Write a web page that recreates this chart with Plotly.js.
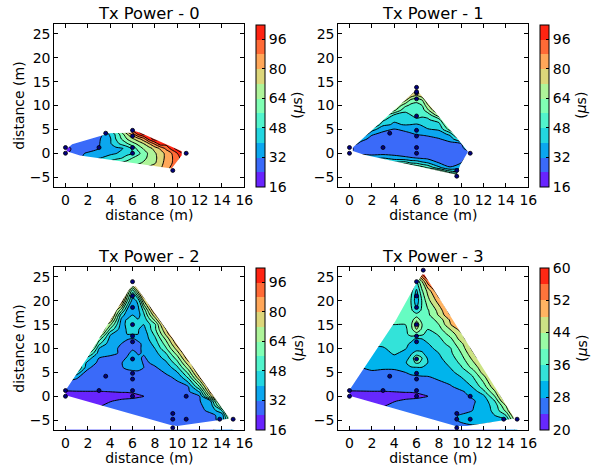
<!DOCTYPE html>
<html><head><meta charset="utf-8">
<script src="https://cdn.plot.ly/plotly-3.0.1.min.js"></script>
<style>html,body{margin:0;padding:0;background:#fff}#c{width:595px;height:466px}</style>
</head><body><div id="c"></div>
<script>
const N = null;
const titles = ["Tx Power - 0","Tx Power - 1","Tx Power - 2","Tx Power - 3"];
const ticksA = [16,32,48,64,80,96];
const ticksB = [20,28,36,44,52,60];
const bandsA = ["#6824fe","#3a6af9","#0ba7ef","#23d6e0","#51f4cc","#80ffb4","#aef499","#dcd67a","#ffa759","#ff6a36","#ff2412"];
const bandsB = ["#6628fe","#3374f8","#00b4ec","#33e3d9","#66fcc2","#99fca5","#cce385","#ffb462","#ff743b","#ff2814"];

const px0 = [0,0,3,3.6,6,6,6,6,9.6,10.8];
const py0 = [0,1.2,1.2,4.2,0,1.2,3.6,4.8,-3.6,0];
const px1 = [0,0,3,3.6,6,6,6,6,6,6,6,6,6,9.6,9.6,10.8];
const py1 = [0,1.2,1.2,4.2,0,1.2,3.6,4.8,7.8,11.4,12.6,12.9,13.8,-3.6,-4.8,0];
const px2 = [0,0,3,3.6,6,6,6,6,6,6,6,6,6,6,6,9.6,9.6,9.6,10.8,10.8,13.8,15];
const py2 = [0,1.2,1.2,4.2,0,1.2,3.6,4.8,7.8,11.4,12.6,15,18.6,21,24,-3.6,-4.8,-6.6,0,-4.8,-4.8,-4.8];
const px3 = [0,0,3,3.6,6,6,6,6,6,6,6,6,6,6,6,6.6,9.6,9.6,9.6,10.8,10.8,13.8,15];
const py3 = [0,1.2,1.2,4.2,0,1.2,3.6,4.8,7.8,11.4,12.6,15,18.6,21,24,26.4,-3.6,-4.8,-6.6,0,-4.8,-4.8,-4.8];

const xs0 = [0,1,2,3,4,4.5,5,5.5,6,6.5,7,7.5,8,8.5,9,9.5,10,10.5,11];
const ys0 = [5,4,3,2,1,0,-1,-2,-3,-4];
const z0 = [
[N,N,N,N,50,60,72,88,100,108,N,N,N,N,N,N,N,N,N],
[N,N,N,28,41.5,49.5,59.5,71,84,98,106,N,N,N,N,N,N,N,N],
[N,N,27,31,39,48,56,64,70.5,77,85,100,108,N,N,N,N,N,N],
[N,26,27,31.5,39,45,50,55,61,66,72,80,90,102,N,N,N,N,N],
[22,26,28,32,37,38,39,42.5,50,59,65,69,75,81.5,90,99,108,N,N],
[22,29.5,33,36,38.5,39.5,42,45,48,53.5,60,66,71,76.5,82,88,96,105,110],
[N,30,35,39.5,43,45.5,47.5,52,56,60,62,66,70,76,82,87,93,100,110],
[N,N,N,50,52,55,57,59,61,62.5,65,68,71,77,83,87,96,106,N],
[N,N,N,N,N,N,62,63,65,68,71,74,76,79,84,90,100,110,N],
[N,N,N,N,N,N,N,N,75,76,77,78,80,82,86,92,100,N,N]];

const xs1 = [0,1,2,3,4,5,5.5,6,6.5,7,8,9,10,11,12];
const ys1 = [14,13,12,11,10,9,8,7,6,5,4,3,2,1,0,-1,-2,-3,-4,-5];
const z1 = [
[N,N,N,N,N,110,100,95,100,110,N,N,N,N,N],
[N,N,N,N,N,100,90,80,90,100,N,N,N,N,N],
[N,N,N,N,100,90,75,70,76,90,N,N,N,N,N],
[N,N,N,N,90,72,60,58,62,80,104,N,N,N,N],
[N,N,N,N,74,58,54,53,56,70,95,N,N,N,N],
[N,N,N,N,66,49,50,52,52,62,84,N,N,N,N],
[N,N,N,60,47,46.5,48,50,49.5,50,70,96,N,N,N],
[N,N,70,50,41,44,45,47,46,47,52,82,N,N,N],
[N,N,62,42,39,40.5,40,39,41,43,45,70,100,N,N],
[N,N,44,34,31.5,33.5,35,36,37,39.5,41,60,90,N,N],
[N,52,33,30,30,30,31,32.5,33,34,36,42,74,N,N],
[N,36,29,28,27.5,28,28,28,28.5,29,31.5,35,52,90,N],
[40,29,27,26.5,26.5,26.5,26.5,26.5,27,27,28,30,32,60,N],
[23,26,26,26,26,26,26,26,26,26,26.5,27,28,45,N],
[23,29,28.5,29,29,28.5,28.5,28,28,27.5,27,27,27.5,30,N],
[N,40,38,40,36,33.5,32.5,32,31,30,28.5,28,30,36,N],
[N,N,N,60,50,52,47,46,42,40,32,29,32,45,N],
[N,N,N,N,N,80,70,64,60,55,42,32.5,38,60,N],
[N,N,N,N,N,N,N,90,85,80,72,54,50,80,N],
[N,N,N,N,N,N,N,N,N,N,100,90,80,N,N]];

const xs2 = [0,1,2,3,4,5,5.5,6,6.5,7,8,9,10,11,12,13,14,15];
const ys2 = [24,23,22,20,18,17,16,15,14,13,12,11,10,9,8,7,6,4,2,1,0,-1,-2,-3,-4,-5,-6,-7];
const z2 = [
[N,N,N,N,N,110,100,90,100,110,N,N,N,N,N,N,N,N],
[N,N,N,N,N,100,85,70,85,100,N,N,N,N,N,N,N,N],
[N,N,N,N,N,95,76,50,74,95,N,N,N,N,N,N,N,N],
[N,N,N,N,N,88,58,36,42,72,100,N,N,N,N,N,N,N],
[N,N,N,N,90,59,39,34,38,50,90,N,N,N,N,N,N,N],
[N,N,N,N,90,44,36,40,37,46,78,100,N,N,N,N,N,N],
[N,N,N,N,80,38,40.5,43,40.5,42,66,100,N,N,N,N,N,N],
[N,N,N,N,66,36,42,45,42,40,54,90,N,N,N,N,N,N],
[N,N,N,90,54,35,41,43,40.5,37,54,80,105,N,N,N,N,N],
[N,N,N,78,41,34,40,40,40,35,50,74,100,N,N,N,N,N],
[N,N,N,60,37,33.5,32.5,31.5,33,35,46,66,90,N,N,N,N,N],
[N,N,90,50,35,32,30,30,31,33,43,60,84,105,N,N,N,N],
[N,N,80,40,34,31,30,31,31,33,40,55,76,100,N,N,N,N],
[N,N,60,36,33,31.5,30.5,34,31.5,32.5,37,48,68,92,N,N,N,N],
[N,N,44,32,31,30,32.5,38.5,33,31.3,35,43,60,86,N,N,N,N],
[N,N,38,30,29.5,31.5,35,38.5,36,31,33,38.5,53,77,N,N,N,N],
[N,60,33,29,28,31.5,33,33.5,33.5,32,31.5,34,46,68,95,N,N,N],
[N,33,28,27,27,27.5,28,28.5,29,29,30,31,33,50,80,110,N,N],
[26,27,26.5,26,26,25.5,25.5,25.5,26,26.5,27.5,29,30.5,32,56,92,N,N],
[23.7,23.8,23.9,23.9,24.1,24.3,24.3,24.5,25,25.5,26.5,28,29.5,31,41,85,110,N],
[22,22,22.5,22.5,22.5,22.7,22.8,23,23.4,23.9,25.5,27,28.5,30,32,70,105,N],
[20,21,21.5,22.5,23.8,24.7,25,25.2,25.6,26,26.5,27.5,28.5,30,31.5,40,85,N],
[N,22,22.5,23.7,25,25.5,25.7,26,26,26.5,27,28,29,30,31,35,70,N],
[N,N,24,25,26,26.5,26.5,27,27,27,27.5,28,29,29.5,30.5,33.5,48,100],
[N,N,N,26,27,27,27,27.5,27.5,27.5,28,28,29,29.5,30,30.5,34,90],
[N,N,N,N,N,N,N,28,28,28,28,28,29,29,30,31,33,70],
[N,N,N,N,N,N,N,N,N,N,28,28,28.5,29,29,30,31,N],
[N,N,N,N,N,N,N,N,N,N,28,28,29,29,N,N,N,N]];

const xs3 = xs2;
const ys3 = [26,24,22,20,18,17,16,15,14,13,12,11,10,9,8,7,6,5,4,2,1,0,-1,-2,-3,-4,-5,-6,-7];
const z3 = [
[N,N,N,N,N,N,44,52,60,64,N,N,N,N,N,N,N,N],
[N,N,N,N,N,40,38,36,44,54,62,N,N,N,N,N,N,N],
[N,N,N,N,N,39,37.5,31,39.5,45,56,N,N,N,N,N,N,N],
[N,N,N,N,39,38,36,29.5,36.5,42.5,50,58,N,N,N,N,N,N],
[N,N,N,N,39,38,37,32.5,37,39.5,45.5,54,N,N,N,N,N,N],
[N,N,N,N,38,38,38,38,38,39,44.5,52,60,N,N,N,N,N],
[N,N,N,N,37,36.5,38,43,38,37.5,41.5,48.5,56,N,N,N,N,N],
[N,N,N,36,36,36,39,47,40,37,40,47.5,54,N,N,N,N,N],
[N,N,N,35,35,35,38.5,44,39,36,38.5,44,50,58,N,N,N,N],
[N,N,N,34,34,34.5,38,38,37,34,36.5,41.5,47,54,N,N,N,N],
[N,N,33,33.5,33.5,33.5,33,31.5,32,33,35.2,38.8,46,52,N,N,N,N],
[N,N,32.5,33,33,32.8,31.5,30,31,31.8,34,37.5,43,50,58,N,N,N],
[N,N,31.5,31.5,33.5,32.2,31,30.5,31,31,33,35.5,41.5,49,56,N,N,N],
[N,N,30.5,30.5,32.5,31,31.5,33.5,32.5,30.5,32,35,40,47,54,N,N,N],
[N,N,29.5,29.5,31,30.5,33,40,36,31.5,31.3,34,38.5,45,52,N,N,N],
[N,28.5,29,29,29,31.5,34.5,36.5,35.5,32,30.5,33,37,43,49,N,N,N],
[N,28,28.3,28.3,28.2,31,31.5,31.7,31.7,31,30,32,35.5,41,47,55,N,N],
[N,27,27.8,27.5,27.7,28,28.5,29,29.5,29,29,31,33.5,37.5,46,53,N,N],
[27,26.5,27,27,27,27,27.5,27.5,27.6,27.8,28.5,30,32,35.5,42.5,52,N,N],
[26,26,26,26,26,26,26,26,26.2,26.5,27,27.5,29.5,32.2,38,47,58,N],
[23.7,23.8,23.9,23.9,24.1,24.3,24.3,24.5,25,25.5,26.5,27,27.5,29.5,35,43.5,56,N],
[22,22,22.5,22.5,22.5,22.7,22.8,23,23.4,23.9,25,26,27,28.5,31,40,54,N],
[20,21,21.5,22.5,23.8,24.7,25,25.2,25.6,26,26,26.5,27,27.5,29.5,36,50,N],
[N,22,22.5,23.7,25,25.5,25.7,26,26,26,26.5,26.5,27,27.7,30,33.5,44,60],
[N,N,24,25,26,26.5,26.5,26.5,26.5,26.5,26.5,27,27.3,28,30,33,41,56],
[N,N,N,26,26.5,26.8,26.8,27,27,27,27,27.5,28.2,29,30,32,36,52],
[N,N,N,N,N,N,N,27.2,27.2,27.2,27.2,27.5,28.3,29.5,30,29,31,48],
[N,N,N,N,N,N,N,N,N,N,27.3,27.5,27.7,28,27.6,27,28,N],
[N,N,N,N,N,N,N,N,N,N,27,27,27,27,27,27,N,N]];

// outline of the area where the interpolated field is defined, in metres
const hull0 = [[.1,.9],[.6,1.9],[3.5,3.9],[3.6,4.2],[5.9,4.3],[6.1,4.7],[6.7,4.3],[10.4,.4],[10.4,-.4],[9.5,-3.2],[1.3,-.45],[.1,.4]];
const hull1 = [[.3,1.2],[6,13.3],[10,2.1],[10.6,.3],[9.9,-2.5],[9.6,-4.5],[1.3,-.3],[.3,.5]];
const hull2 = [[0,1.2],[2,8.2],[5.7,22.4],[6,23.1],[6.3,23],[14.6,-4.4],[14.6,-4.7],[10,-6.2],[9.4,-6],[0,.2]];
const hull3 = [[0,1.3],[4.1,15.7],[6,23.7],[6.5,25.5],[6.7,25.5],[14.7,-4.4],[14.7,-4.7],[10.5,-6.2],[9.5,-6.2],[0,.1]];

const panels = [
 {x:xs0,y:ys0,z:z0,px:px0,py:py0,hull:hull0,start:16,end:104,size:8,bands:bandsA,ticks:ticksA,l:54.3,t:24.3},
 {x:xs1,y:ys1,z:z1,px:px1,py:py1,hull:hull1,start:16,end:104,size:8,bands:bandsA,ticks:ticksA,l:338.3,t:24.3},
 {x:xs2,y:ys2,z:z2,px:px2,py:py2,hull:hull2,start:16,end:104,size:8,bands:bandsA,ticks:ticksA,l:54.3,t:267.3},
 {x:xs3,y:ys3,z:z3,px:px3,py:py3,hull:hull3,start:20,end:60,size:4,bands:bandsB,ticks:ticksB,l:338.3,t:267.3}
];
const W=595,H=466,PW=190,PH=162.4,CBX=202,CBW=8.5;
const FONT='"DejaVu Sans", sans-serif';

function scale(bands){
  const n=bands.length, out=[];
  bands.forEach((c,k)=>{
    const a=k===0?0:(k+.5)/(n+1), b=k===n-1?1:(k+1.5)/(n+1);
    out.push([a,c],[b,c]);
  });
  return out;
}
function maskPath(h){
  const ox=[-1,16,16,-1,-1], oy=[-7,-7,27,27,-7];
  const X=[...ox], Y=[...oy];
  h.forEach(q=>{X.push(q[0]);Y.push(q[1]);});
  X.push(h[0][0],-1); Y.push(h[0][1],-7);
  return {X,Y};
}

const data=[], layout={
  width:W,height:H,margin:{l:0,r:0,t:0,b:0},paper_bgcolor:'#fff',plot_bgcolor:'#fff',
  showlegend:false,font:{family:FONT,size:14,color:'#000'},annotations:[]
};
panels.forEach((p,i)=>{
  const s=i===0?'':String(i+1);
  const xa='x'+s, ya='y'+s;
  const cont={start:p.start,end:p.end,size:p.size};
  const X=p.x, Y=[...p.y].reverse(), Z=[...p.z].reverse();
  data.push({type:'contour',x:X,y:Y,z:Z,xaxis:xa,yaxis:ya,connectgaps:true,hoverinfo:'skip',
    autocontour:false,zauto:false,zmin:p.start,zmax:p.end,
    contours:{...cont,coloring:'fill',showlines:false},line:{smoothing:.7,width:0},
    colorscale:scale(p.bands),showscale:true,
    colorbar:{x:(p.l+CBX)/W,xanchor:'left',xpad:0,y:1-(p.t+PH)/H,yanchor:'bottom',ypad:0,
      lenmode:'pixels',len:PH,thicknessmode:'pixels',thickness:CBW,outlinecolor:'#000',outlinewidth:1,borderwidth:0,
      tickmode:'array',tickvals:p.ticks,ticks:'inside',ticklen:3,tickcolor:'#000',tickwidth:1,
      tickfont:{family:FONT,size:14,color:'#000'}}});
  data.push({type:'contour',x:X,y:Y,z:Z,xaxis:xa,yaxis:ya,connectgaps:true,hoverinfo:'skip',
    autocontour:false,contours:{...cont,coloring:'none'},showscale:false,
    line:{color:'#000',width:1,smoothing:.7}});
  const m=maskPath(p.hull);
  data.push({type:'scatter',mode:'lines',x:m.X,y:m.Y,xaxis:xa,yaxis:ya,fill:'toself',fillcolor:'#fff',
    line:{width:0,color:'#fff',simplify:false},hoverinfo:'skip'});
  data.push({type:'scatter',mode:'markers',x:p.px,y:p.py,xaxis:xa,yaxis:ya,cliponaxis:false,hoverinfo:'skip',
    marker:{size:4,color:'#000080',line:{color:'#000',width:.8}}});
  const axis={showline:true,linecolor:'#000',linewidth:1,mirror:'allticks',ticks:'inside',ticklen:4,tickcolor:'#000',
    showgrid:false,zeroline:false,tickfont:{family:FONT,size:14,color:'#000'},automargin:false};
  layout['xaxis'+s]={...axis,anchor:ya,domain:[p.l/W,(p.l+PW)/W],range:[-1,16],tickmode:'array',
    tickvals:[0,2,4,6,8,10,12,14,16],title:{text:'distance (m)',font:{family:FONT,size:14,color:'#000'},standoff:0}};
  layout['yaxis'+s]={...axis,anchor:xa,domain:[1-(p.t+PH)/H,1-p.t/H],range:[-7,27],tickmode:'array',
    tickvals:[-5,0,5,10,15,20,25]};
  if(i%2===0) layout['yaxis'+s].title={text:'distance (m)',font:{family:FONT,size:14,color:'#000'},standoff:1};
  layout.annotations.push({xref:'paper',yref:'paper',x:(p.l+PW/2)/W,y:1-(p.t+0.5)/H,yanchor:'bottom',xanchor:'center',
    text:titles[i],showarrow:false,font:{family:FONT,size:16.3,color:'#000'}});
  layout.annotations.push({xref:'paper',yref:'paper',x:(p.l+243)/W,y:1-(p.t+PH/2)/H,xanchor:'center',yanchor:'middle',
    text:'(<i>μ</i>s)',textangle:-90,showarrow:false,font:{family:FONT,size:14,color:'#000'}});
});
Plotly.newPlot('c',data,layout,{staticPlot:true,displayModeBar:false});
</script></body></html>
